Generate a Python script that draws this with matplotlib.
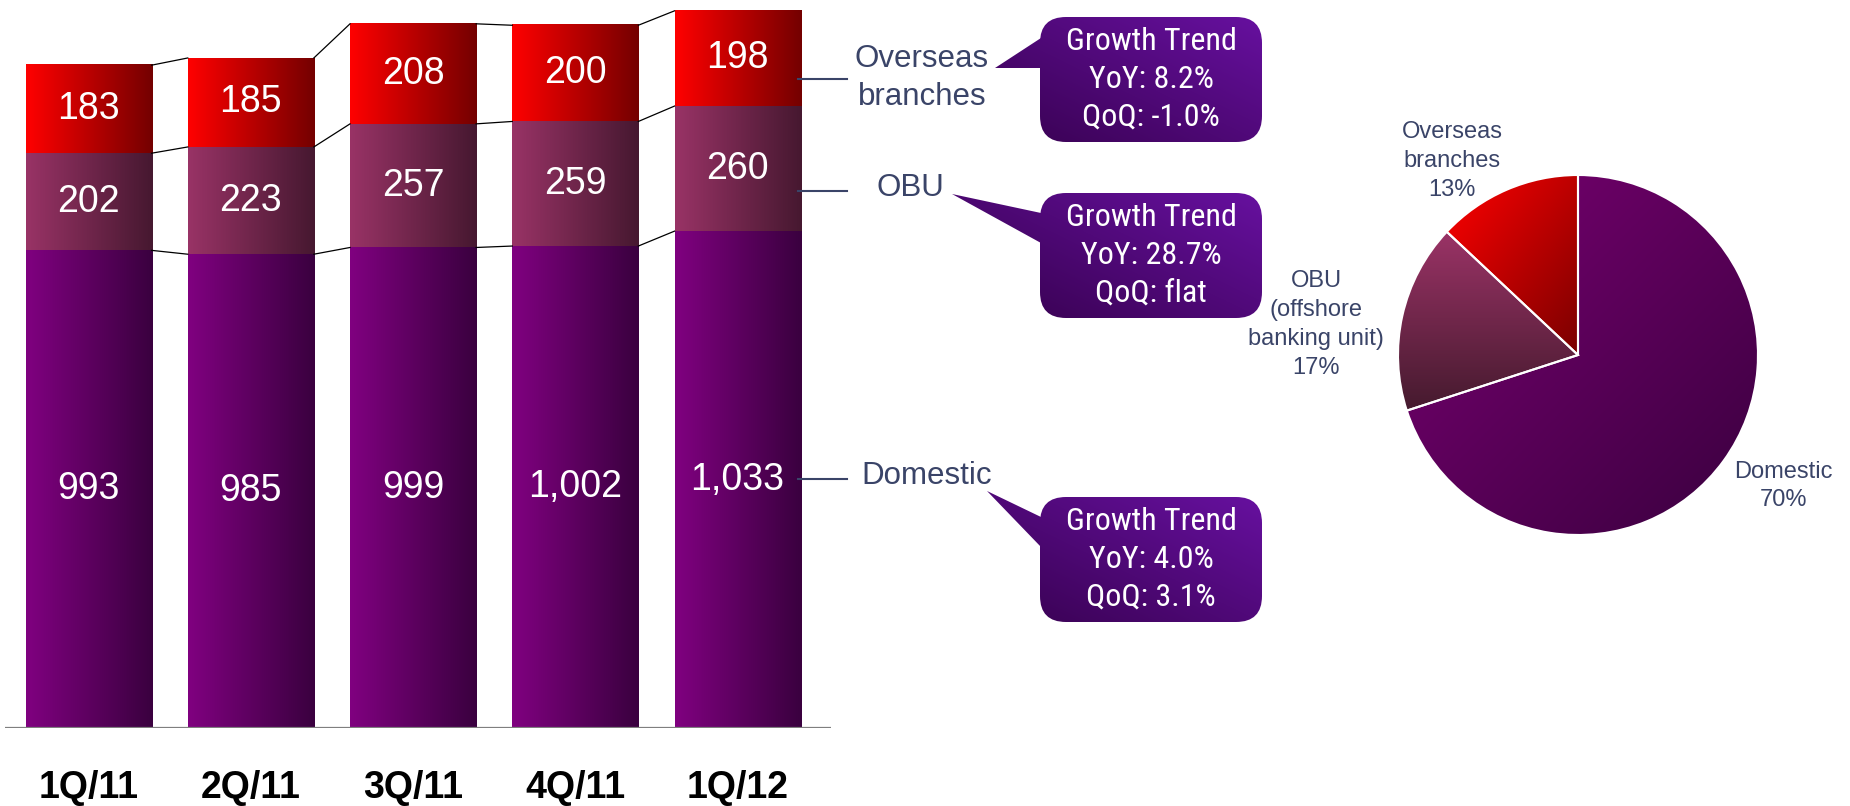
import numpy as np
import matplotlib
matplotlib.use('Agg')
import matplotlib.pyplot as plt
from matplotlib import font_manager
from matplotlib.colors import LinearSegmentedColormap
from matplotlib.patches import FancyBboxPatch, Polygon

plt.rcParams['font.family'] = ['Liberation Sans', 'DejaVu Sans']

# data
quarters = ['1Q/11', '2Q/11', '3Q/11', '4Q/11', '1Q/12']
domestic = [993, 985, 999, 1002, 1033]
obu = [202, 223, 257, 259, 260]
overseas = [183, 185, 208, 200, 198]

segment_names = ['Overseas\nbranches', 'OBU', 'Domestic']
trend_yoy = ['8.2%', '28.7%', '4.0%']
trend_qoq = ['-1.0%', 'flat', '3.1%']

pie_names = ['Overseas\nbranches', 'OBU\n(offshore\nbanking unit)', 'Domestic']
pie_share = [13, 17, 70]

W, H = 1850, 806
fig = plt.figure(figsize=(W / 100, H / 100), dpi=100)

names = {f.name for f in font_manager.fontManager.ttflist}
narrow = ['Roboto Condensed', 'Liberation Sans'] if 'Roboto Condensed' in names else ['Liberation Sans']
label_col = '#3a4468'


def fx(x):
    return x / W


def fy(y):
    return 1 - y / H


dom_cmap = LinearSegmentedColormap.from_list('dom', ['#800080', '#3a003f'])
obu_cmap = LinearSegmentedColormap.from_list('obu', ['#993366', '#461830'])
ovs_cmap = LinearSegmentedColormap.from_list('ovs', ['#ff0000', '#740000'])
box_cmap = LinearSegmentedColormap.from_list('box', ['#34004a', '#6c12a8'])
ramp = np.linspace(0, 1, 256).reshape(1, -1)

# ---- stacked bars
ax = fig.add_axes([fx(5), fy(728), fx(826), (728 - 6.5) / H])
x = np.arange(len(quarters))
width = 0.777
bottom = np.zeros(len(x))
tops = []
for vals, cmap in [(domestic, dom_cmap), (obu, obu_cmap), (overseas, ovs_cmap)]:
    bars = ax.bar(x, vals, width, bottom=bottom, color='none', edgecolor='none')
    for b, v in zip(bars, vals):
        x0, y0 = b.get_x(), b.get_y()
        ax.imshow(ramp, cmap=cmap, aspect='auto', zorder=1,
                  extent=(x0, x0 + b.get_width(), y0, y0 + b.get_height()))
        ax.text(x0 + b.get_width() / 2, y0 + b.get_height() / 2, f'{v:,}',
                ha='center', va='center', color='white', fontsize=27, zorder=3)
    bottom = bottom + np.array(vals)
    tops.append(bottom.copy())

for t in tops:
    for i in range(len(x) - 1):
        ax.plot([x[i] + width / 2, x[i + 1] - width / 2], [t[i], t[i + 1]],
                color='black', lw=0.9, zorder=2)

ax.axhline(0, color='#7f7f7f', lw=1.6, zorder=4)
ax.set_xlim(-0.515, -0.515 + 826 / 162.25)
ax.set_ylim(0, 1500)
ax.set_xticks(x, quarters, fontsize=27, fontweight='bold')
ax.tick_params(axis='x', length=0, pad=30)
ax.set_yticks([])
for s in ax.spines.values():
    s.set_visible(False)

# ---- overlay in pixel coords for labels and callouts
ov = fig.add_axes([0, 0, 1, 1])
ov.axis('off')

for y in [79, 191, 479]:
    ov.plot([798, 847], [y, y], color=label_col, lw=1.5)
for (lx, ly), name in zip([(922, 78), (910, 188), (927, 476)], segment_names):
    ov.text(lx, ly, name, ha='center', va='center', fontsize=22.5,
            color=label_col, linespacing=1.32)

box_tops = [17, 193, 497]
tails = [[(1041, 38), (995, 68), (1041, 68)],
         [(1041, 213), (952, 194), (1041, 243)],
         [(1041, 517), (987, 491), (1041, 547)]]
gx, gy = np.meshgrid(np.linspace(0, 1, 200), np.linspace(0, 1, 200))
grad = (gx + (1 - gy)) / 2
for top, tail, yoy, qoq in zip(box_tops, tails, trend_yoy, trend_qoq):
    box = FancyBboxPatch((1040, top), 222, 125, boxstyle='round,pad=0,rounding_size=26',
                         fc='none', ec='none')
    ov.add_patch(box)
    tri = Polygon(tail, closed=True, fc='none', ec='none')
    ov.add_patch(tri)
    for clip in (box, tri):
        im = ov.imshow(grad, cmap=box_cmap, aspect='auto',
                       extent=(945, 1262, top + 125, top - 30), zorder=1)
        im.set_clip_path(clip)
    for k, line in enumerate(['Growth Trend', f'YoY: {yoy}', f'QoQ: {qoq}']):
        ov.text(1151, top + 25 + 37.5 * k, line, ha='center', va='center',
                fontsize=23, color='white', family=narrow, zorder=3)

ov.set_xlim(0, W)
ov.set_ylim(H, 0)

# ---- pie
pax = fig.add_axes([fx(1398), fy(535), fx(360), 360 / H])
wedges, _ = pax.pie(pie_share, startangle=90, counterclock=True, radius=1,
                    wedgeprops=dict(fc='none', ec='white', lw=1.5, zorder=2))
pie_cmaps = [LinearSegmentedColormap.from_list('p0', ['#7a0000', '#ff0000']),
             LinearSegmentedColormap.from_list('p1', ['#451a2e', '#9a3366']),
             LinearSegmentedColormap.from_list('p2', ['#3a003f', '#7a0072'])]
pie_grads = [((1 - gx) + (1 - gy)) / 2, 1 - gy, ((1 - gx) + (1 - gy)) / 2]
for w, cm, g in zip(wedges, pie_cmaps, pie_grads):
    bb = w.get_path().get_extents()
    im = pax.imshow(g, cmap=cm, aspect='auto', zorder=1,
                    extent=(bb.x0, bb.x1, bb.y0, bb.y1))
    im.set_clip_path(w)

for (px, py), name, share in zip([(-0.7, 1.078), (-1.455, 0.17), (1.139, -0.728)],
                                 pie_names, pie_share):
    pax.text(px, py, f'{name}\n{share}%', ha='center', va='center', fontsize=17,
             color=label_col, linespacing=1.4)
pax.set_xlim(-1, 1)
pax.set_ylim(-1, 1)
pax.axis('off')

fig.savefig('out.png', dpi=100)
